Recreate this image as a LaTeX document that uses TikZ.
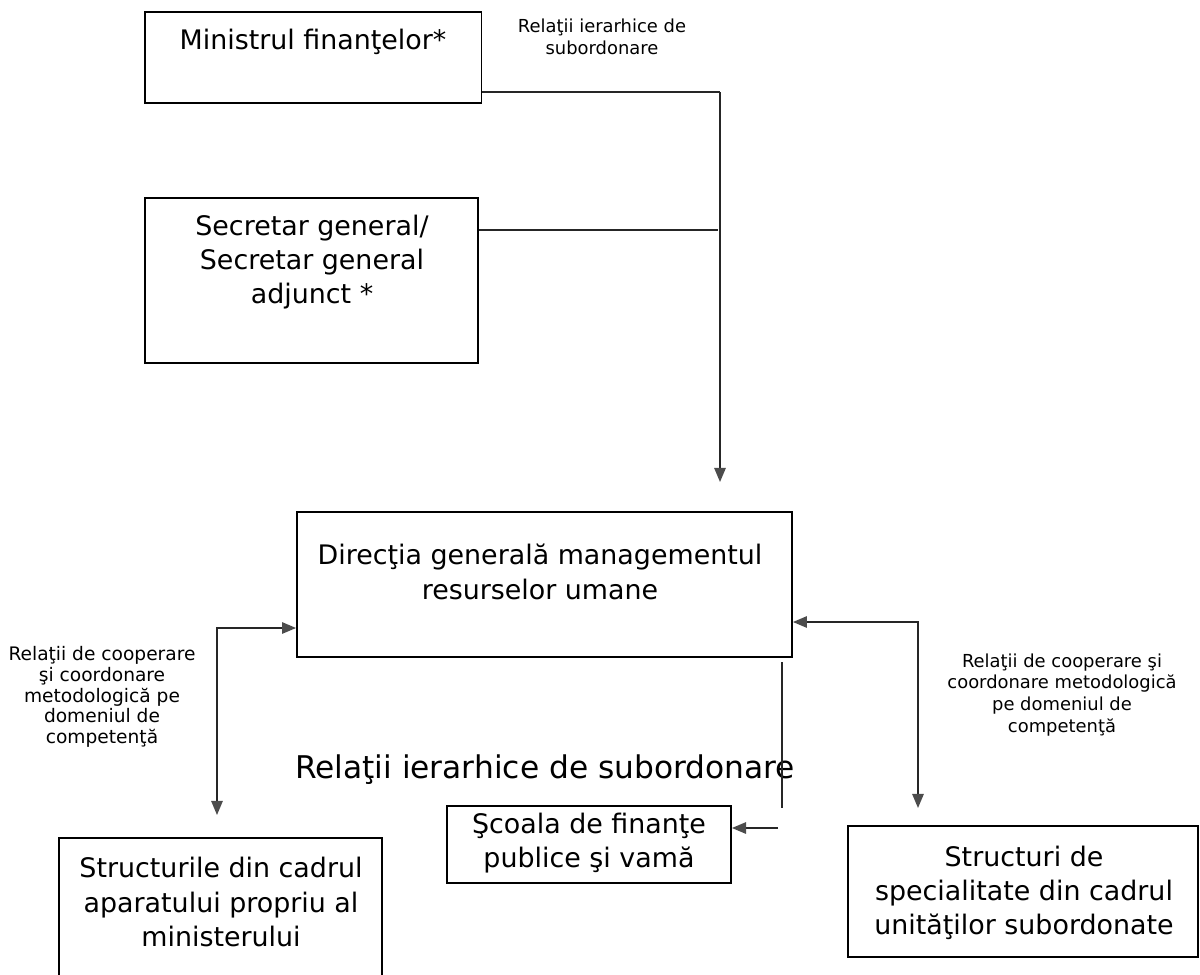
\documentclass[tikz,border=0pt]{standalone}
\usepackage{fontspec}
\setmainfont{DejaVu Sans}
\usepackage{tikz}
\usetikzlibrary{arrows.meta}

\begin{document}
\begin{tikzpicture}[x=0.02cm, y=-0.02cm,
    box/.style={rectangle, draw, line width=1.1pt, inner sep=0pt},
    boxtext/.style={align=center, font=\fontsize{15.3}{19.5}\selectfont},
    note/.style={align=center, font=\fontsize{10.2}{12.5}\selectfont},
    link/.style={line width=0.9pt, draw=black!85},
    tipend/.style={-{Triangle[length=8pt, width=6.5pt, color=black!70]}},
    tipboth/.style={{Triangle[length=8pt, width=6.5pt, color=black!70]}-{Triangle[length=8pt, width=6.5pt, color=black!70]}}]

  % Frame
  \clip (0,0) rectangle (1200,974);

  % Boxes
  \node[box, minimum width=6.74cm, minimum height=1.82cm] (ministru) at (313,57.5) {};
  \node[box, minimum width=6.66cm, minimum height=3.30cm] (secretar) at (311.5,280.5) {};
  \node[box, minimum width=9.90cm, minimum height=2.90cm] (directia) at (544.5,584.5) {};
  \node[box, minimum width=6.46cm, minimum height=3.04cm] (aparat) at (220.5,914) {};
  \node[box, minimum width=5.68cm, minimum height=1.54cm] (scoala) at (589,844.5) {};
  \node[box, minimum width=7.00cm, minimum height=2.62cm] (unitati) at (1023,891.5) {};

  % Box texts
  \node[boxtext] (ministrutxt) at (313,42) {Ministrul finanţelor*};
  \node[boxtext] (secretartxt) at (312,262) {Secretar general/\\Secretar general\\adjunct *};
  \node[boxtext] (directiatxt) at (540,572) {Direcţia generală managementul\\resurselor umane};
  \node[boxtext] (aparattxt) at (221,902) {Structurile din cadrul\\aparatului propriu al\\ministerului};
  \node[boxtext] (scoalatxt) at (589,843) {Şcoala de finanţe\\publice şi vamă};
  \node[boxtext] (unitatitxt) at (1024,893) {Structuri de\\specialitate din cadrul\\unităţilor subordonate};

  % Labels
  \node[note] (ierarhictop) at (602,37) {Relaţii ierarhice de\\subordonare};
  \node[note, font=\fontsize{10.6}{11.8}\selectfont] (coopleft) at (102,697) {Relaţii de cooperare\\şi coordonare\\metodologică pe\\domeniul de\\competenţă};
  \node[note] (coopright) at (1062,695) {Relaţii de cooperare şi\\coordonare metodologică\\pe domeniul de\\competenţă};
  \node[font=\fontsize{17.8}{21}\selectfont] (ierarhicmid) at (545,770) {Relaţii ierarhice de subordonare};

  % Connector points
  \coordinate (topbend) at (720,92);
  \coordinate (secjoin) at (718,230);
  \coordinate (toptip) at (720,482);
  \coordinate (leftbend) at (217,628);
  \coordinate (lefttip) at (217,815);
  \coordinate (rightbend) at (918,622);
  \coordinate (righttip) at (918,808);
  \coordinate (subtop) at (782,662);
  \coordinate (subbot) at (782,808);
  \coordinate (subfrom) at (778,828);

  % Connectors
  \draw[link] (ministru.east |- topbend) -- (topbend);
  \draw[link, tipend] (topbend) -- (toptip);
  \draw[link] (secretar.east |- secjoin) -- (secjoin);
  \draw[link, tipboth] (lefttip) -- (leftbend) -- (directia.west |- leftbend);
  \draw[link, tipboth] (directia.east |- rightbend) -- (rightbend) -- (righttip);
  \draw[link] (subtop) -- (subbot);
  \draw[link, tipend] (subfrom) -- (scoala.east |- subfrom);

\end{tikzpicture}
\end{document}
